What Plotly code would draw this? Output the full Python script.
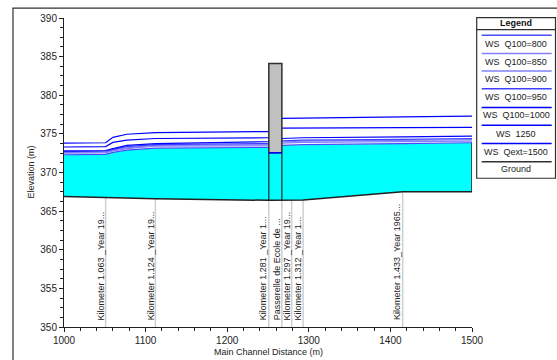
import plotly.graph_objects as go

# ---------------- data ----------------
ws_x = [1000, 1051, 1060, 1077, 1112, 1251, 1267, 1279, 1293, 1415, 1500]
ws_names = ["WS  Q100=800", "WS  Q100=850", "WS  Q100=900", "WS  Q100=950",
            "WS  Q100=1000", "WS  1250", "WS  Qext=1500"]
ws_800 = [372.3, 372.35, 372.6, 372.9, 373.15, 373.25, 373.5, 373.55, 373.6, 373.75, 373.85]
ws_850 = [372.5, 372.55, 372.8, 373.1, 373.4, 373.45, 373.8, 373.85, 373.9, 374.0, 374.05]
ws_900 = [372.6, 372.65, 372.9, 373.2, 373.5, 373.6, 373.95, 374.0, 374.05, 374.15, 374.25]
ws_950 = [372.7, 372.75, 373.0, 373.35, 373.6, 373.75, 374.1, 374.15, 374.2, 374.3, 374.4]
ws_1000 = [372.8, 372.85, 373.1, 373.5, 373.75, 374.0, 374.4, 374.45, 374.5, 374.6, 374.7]
ws_1250 = [373.3, 373.35, 373.9, 374.2, 374.4, 374.5, 375.75, 375.75, 375.75, 375.8, 375.85]
ws_1500 = [373.8, 373.85, 374.55, 374.95, 375.15, 375.3, 377.0, 377.05, 377.05, 377.2, 377.3]
ws_values = [ws_800, ws_850, ws_900, ws_950, ws_1000, ws_1250, ws_1500]
ws_colors = ["#4a4aff", "#8080ff", "#8080ff", "#4040ff", "#0000ff", "#0000ff", "#0000ff"]

ground_x = [1000, 1051, 1112, 1251, 1267, 1279, 1293, 1415, 1500]
ground_y = [366.9, 366.75, 366.6, 366.4, 366.4, 366.4, 366.45, 367.5, 367.5]

station_x = [1051, 1112, 1251, 1267, 1279, 1293, 1415]
station_ground = [366.75, 366.6, 366.4, 366.4, 366.4, 366.45, 367.5]
station_labels = ["Kilometer 1.063 _Year 19...", "Kilometer 1.124 _Year 19...",
                  "Kilometer 1.281 _Year 1...", "Passerelle de Ecole de ...",
                  "Kilometer 1.297 _Year 19...", "Kilometer 1.312 _Year 1...",
                  "Kilometer 1.433_Year 1965..."]

bridge_x = [1251, 1267]
bridge_low = 372.55
bridge_high = 384.1

x_ticks = [1000, 1100, 1200, 1300, 1400, 1500]
y_ticks = [350, 355, 360, 365, 370, 375, 380, 385, 390]

# ---------------- layout helpers (reference pixels -> paper) ----------------
W, H = 557, 360
L, R, T, B = 64, 472, 16, 327  # plot area in reference pixels


def px(x):
    return (x - L) / (R - L)


def py(y):
    return (B - y) / (B - T)


fig = go.Figure()

# water fill (ground to lowest WS)
fig.add_trace(go.Scatter(x=ground_x + ws_x[::-1], y=ground_y + ws_800[::-1],
                         fill="toself", fillcolor="#00ffff", line=dict(width=0),
                         mode="lines", hoverinfo="skip", showlegend=False))

# station lines below ground
for sx, sg in zip(station_x, station_ground):
    fig.add_trace(go.Scatter(x=[sx, sx], y=[350, sg], mode="lines",
                             line=dict(color="#cfcfcf", width=1.5),
                             hoverinfo="skip", showlegend=False))

# WS lines
for name, vals, col in zip(ws_names, ws_values, ws_colors):
    fig.add_trace(go.Scatter(x=ws_x, y=vals, mode="lines", name=name,
                             line=dict(color=col, width=1.2), showlegend=False))

# ground line + right edge
fig.add_trace(go.Scatter(x=ground_x + [ground_x[-1]], y=ground_y + [ws_800[-1]],
                         mode="lines", name="Ground",
                         line=dict(color="#202020", width=1.5), showlegend=False))

shapes = []
# bridge piers
for bx, bg in zip(bridge_x, [366.4, 366.4]):
    shapes.append(dict(type="line", xref="x", yref="y", x0=bx, x1=bx, y0=bg, y1=bridge_low,
                       line=dict(color="#202020", width=1.2)))
# bridge deck
shapes.append(dict(type="rect", xref="x", yref="y", x0=bridge_x[0], x1=bridge_x[1],
                   y0=bridge_low, y1=bridge_high, fillcolor="#c0c0c0",
                   line=dict(color="#303030", width=1.5)))
shapes.append(dict(type="line", xref="x", yref="y", x0=bridge_x[0], x1=bridge_x[1],
                   y0=bridge_low, y1=bridge_low, line=dict(color="#0000ff", width=1.5)))

# outer frame
shapes.append(dict(type="rect", xref="paper", yref="paper", x0=px(13), x1=px(600),
                   y0=py(400), y1=py(6), line=dict(color="#303030", width=1.2)))

# legend box
lx0, lx1 = 476.7, 555.5
lxc = (lx0 + lx1) / 2
shapes.append(dict(type="rect", xref="paper", yref="paper", x0=px(lx0), x1=px(lx1),
                   y0=py(177.3), y1=py(15.7), line=dict(color="#303030", width=1.2),
                   fillcolor="white"))
shapes.append(dict(type="line", xref="paper", yref="paper", x0=px(lx0), x1=px(lx1),
                   y0=py(27.7), y1=py(27.7), line=dict(color="#303030", width=1.2)))

leg_line_y = [33.3, 51.7, 69.3, 87.3, 106, 124, 142.3, 160.7]
leg_text_y = [42.3, 60, 77.7, 95.7, 113.3, 132.7, 150.7, 168.3]
leg_names = ws_names + ["Ground"]
leg_cols = ws_colors + ["#303030"]

annotations = []
annotations.append(dict(xref="paper", yref="paper", x=px(lxc), y=py(21.5),
                        xanchor="center", yanchor="middle",
                        text="<b>Legend</b>", showarrow=False,
                        font=dict(family="Arial", size=9, color="#111")))
for ly, ty, nm, col in zip(leg_line_y, leg_text_y, leg_names, leg_cols):
    shapes.append(dict(type="line", xref="paper", yref="paper", x0=px(481.7), x1=px(551.7),
                       y0=py(ly), y1=py(ly), line=dict(color=col, width=1.5)))
    annotations.append(dict(xref="paper", yref="paper", x=px(lxc), y=py(ty),
                            xanchor="center", yanchor="middle",
                            text=nm.replace("  ", "&nbsp; "), showarrow=False,
                            font=dict(family="Arial", size=9, color="#222")))

# station labels
for sx, lab in zip(station_x, station_labels):
    annotations.append(dict(xref="x", yref="y", x=sx, y=350.6, text=lab, textangle=-90,
                            xanchor="center", yanchor="bottom", xshift=-5, showarrow=False,
                            font=dict(family="Arial", size=9, color="#222")))

# axis titles
annotations.append(dict(xref="paper", yref="paper", x=px(30), y=py(171.5),
                        xanchor="center", yanchor="middle",
                        text="Elevation (m)", textangle=-90, showarrow=False,
                        font=dict(family="Arial", size=9, color="#222")))
annotations.append(dict(xref="paper", yref="paper", x=px(268), y=py(352),
                        xanchor="center", yanchor="middle",
                        text="Main Channel Distance (m)", showarrow=False,
                        font=dict(family="Arial", size=9, color="#222")))

fig.update_layout(
    width=W, height=H,
    margin=dict(l=L, r=W - R, t=T, b=H - B),
    plot_bgcolor="white", paper_bgcolor="white",
    showlegend=False,
    shapes=shapes, annotations=annotations,
    xaxis=dict(range=[1000, 1500], tickvals=x_ticks, ticks="outside", ticklen=4,
               showgrid=False, zeroline=False, showline=True, linecolor="#202020",
               linewidth=1, tickcolor="#202020",
               tickfont=dict(family="Arial", size=10, color="#222"),
               minor=dict(dtick=20, tick0=1000, ticks="outside", ticklen=3,
                          tickcolor="#202020", showgrid=False)),
    yaxis=dict(range=[350, 390], tickvals=y_ticks, ticks="outside", ticklen=4,
               showgrid=False, zeroline=False, showline=True, linecolor="#202020",
               linewidth=1, tickcolor="#202020",
               tickfont=dict(family="Arial", size=10, color="#222"),
               minor=dict(dtick=1.25, tick0=350, ticks="outside", ticklen=3,
                          tickcolor="#202020", showgrid=False)),
)

fig.write_html("out.html",
               config={"displayModeBar": False},
               post_script="document.body.style.margin='0px';"
                           "document.body.style.overflow='hidden';")
